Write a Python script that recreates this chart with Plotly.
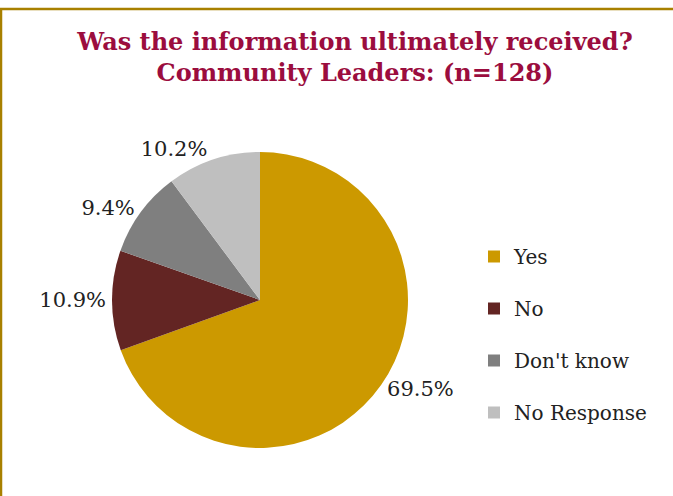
import plotly.graph_objects as go

categories = ["Yes", "No", "Don't know", "No Response"]
values = [69.5, 10.9, 9.4, 10.2]
colors = ["#CC9900", "#632523", "#7F7F7F", "#BFBFBF"]
title_lines = ["Was the information ultimately received?", "Community Leaders: (n=128)"]

W, H = 673, 496
cx, cy, r = 260, 300, 148

fig = go.Figure()
fig.add_trace(go.Pie(
    labels=categories, values=values, sort=False, direction="clockwise", rotation=0,
    marker=dict(colors=colors, line=dict(width=0)),
    texttemplate="%{value:.1f}%", textposition="outside",
    textfont=dict(family="DejaVu Serif", size=21, color="#222222"),
    showlegend=False, hoverinfo="label+value",
    domain=dict(x=[(cx - r) / W, (cx + r) / W], y=[1 - (cy + r) / H, 1 - (cy - r) / H]),
))
for i, (c, col) in enumerate(zip(categories, colors)):
    fig.add_trace(go.Scatter(
        x=[None], y=[None], mode="markers", name=c, legendgroup=str(i),
        marker=dict(symbol="square", size=12, color=col),
    ))

fig.update_layout(
    width=W, height=H, margin=dict(l=0, r=0, t=0, b=0),
    paper_bgcolor="white", plot_bgcolor="white",
    xaxis=dict(visible=False), yaxis=dict(visible=False),
    title=dict(text="<br>".join(title_lines), x=355 / W, xanchor="center",
               y=1 - 50 / H, yanchor="top", yref="container",
               font=dict(family="DejaVu Serif", size=24, color="#9B0D3E", weight="bold")),
    legend=dict(x=474 / W, xanchor="left", y=1 - 237 / H, yanchor="top",
                font=dict(family="DejaVu Serif", size=20, color="#222222"),
                tracegroupgap=23, itemwidth=30),
    shapes=[
        dict(type="line", xref="paper", yref="paper", x0=0, x1=1, y0=1 - 9 / H, y1=1 - 9 / H,
             line=dict(color="#A88000", width=2.5)),
        dict(type="line", xref="paper", yref="paper", x0=1 / W, x1=1 / W, y0=0, y1=1 - 8 / H,
             line=dict(color="#A88000", width=2.5)),
    ],
)
fig.write_html("out.html", config={"displayModeBar": False},
               post_script="document.body.style.margin='0';")
